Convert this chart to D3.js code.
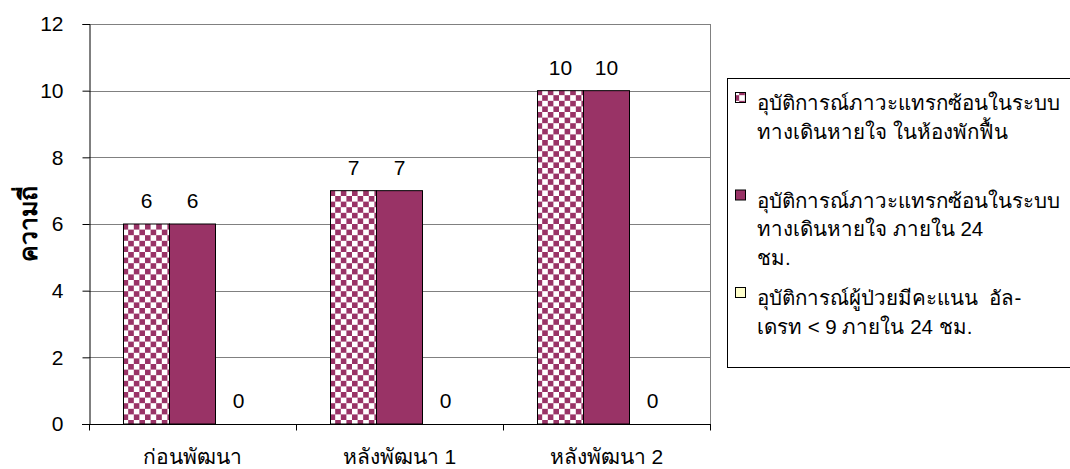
<!DOCTYPE html>
<html>
<head>
<meta charset="utf-8">
<script src="https://cdn.jsdelivr.net/npm/d3@7"></script>
<style>
  html, body { margin: 0; padding: 0; background: #fff; }
  svg { display: block; font-family: "Liberation Sans", Arial, "Noto Sans", sans-serif; }
</style>
</head>
<body>
<svg id="chart" width="1070" height="469"></svg>
<script>
const categories = ["ก่อนพัฒนา", "หลังพัฒนา 1", "หลังพัฒนา 2"];
const seriesNames = [
  ["อุบัติการณ์ภาวะแทรกซ้อนในระบบ", "ทางเดินหายใจ ในห้องพักฟื้น"],
  ["อุบัติการณ์ภาวะแทรกซ้อนในระบบ", "ทางเดินหายใจ ภายใน 24", "ชม."],
  ["อุบัติการณ์ผู้ป่วยมีคะแนน  อัล-", "เดรท < 9 ภายใน 24 ชม."]
];
const recoveryRoom = [6, 7, 10];
const within24h = [6, 7, 10];
const aldrete = [0, 0, 0];
const yTicks = [0, 2, 4, 6, 8, 10, 12];
const yTitle = "ความถี่";

const seriesValues = [recoveryRoom, within24h, aldrete];
const seriesKeys = ["s0", "s1", "s2"];
const PURPLE = "#993366";
const NUM_FONT = 21;

const svg = d3.select("#chart");
const defs = svg.append("defs");
const pat = defs.append("pattern")
  .attr("id", "checker").attr("patternUnits", "userSpaceOnUse")
  .attr("width", 11.2).attr("height", 11.2);
pat.append("rect").attr("width", 11.2).attr("height", 11.2).attr("fill", "#fff");
pat.append("rect").attr("width", 5.6).attr("height", 5.6).attr("fill", PURPLE);
pat.append("rect").attr("x", 5.6).attr("y", 5.6).attr("width", 5.6).attr("height", 5.6).attr("fill", PURPLE);

const fills = ["url(#checker)", PURPLE, "#FFFFCC"];

const plot = { left: 89, right: 710, top: 24, bottom: 424 };

const y = d3.scaleLinear().domain([0, 12]).range([plot.bottom, plot.top]);
const x0 = d3.scaleBand().domain(categories).range([plot.left, plot.right]).padding(0);
const x1 = d3.scaleBand().domain(seriesKeys).range([0, x0.bandwidth()]).paddingInner(0).paddingOuter(0.75);

// gridlines
svg.append("g").selectAll("line").data(yTicks.filter(d => d > 0)).join("line")
  .attr("x1", plot.left).attr("x2", plot.right)
  .attr("y1", d => Math.round(y(d)) + 0.5).attr("y2", d => Math.round(y(d)) + 0.5)
  .attr("stroke", "#808080").attr("stroke-width", 1);
// right frame
svg.append("line").attr("x1", plot.right + 0.5).attr("x2", plot.right + 0.5)
  .attr("y1", plot.top).attr("y2", plot.bottom).attr("stroke", "#808080");

// bars
const groups = svg.append("g").selectAll("g").data(categories).join("g")
  .attr("transform", d => `translate(${x0(d)},0)`);
groups.selectAll("rect").data((c, ci) => seriesKeys.map((k, si) => ({ k, si, v: seriesValues[si][ci] })))
  .join("rect")
  .attr("x", d => x1(d.k)).attr("width", x1.bandwidth())
  .attr("y", d => y(d.v)).attr("height", d => y(0) - y(d.v))
  .attr("fill", d => fills[d.si])
  .attr("stroke", "#000").attr("stroke-width", 1)
  .style("display", d => d.v > 0 ? null : "none");
groups.selectAll("text").data((c, ci) => seriesKeys.map((k, si) => ({ k, si, v: seriesValues[si][ci] })))
  .join("text")
  .attr("x", d => x1(d.k) + x1.bandwidth() / 2)
  .attr("y", d => y(d.v) - 16)
  .attr("text-anchor", "middle").attr("font-size", NUM_FONT).attr("fill", "#000")
  .text(d => d.v);

// y axis
const yAxis = svg.append("g").attr("transform", `translate(${plot.left + 0.5},0)`)
  .call(d3.axisLeft(y).tickValues(yTicks).tickSize(7).tickPadding(19).tickFormat(d3.format("d")));
yAxis.attr("font-family", null).attr("font-size", null);
yAxis.select(".domain").attr("stroke", "#000");
yAxis.selectAll(".tick line").attr("stroke", "#000");
yAxis.selectAll(".tick text").attr("font-size", NUM_FONT).attr("fill", "#000");

// x axis (ticks at category boundaries)
const xAxisG = svg.append("g").attr("transform", `translate(0,${plot.bottom + 0.5})`);
xAxisG.append("line").attr("x1", plot.left - 7).attr("x2", plot.right + 1)
  .attr("stroke", "#000");
const boundaries = categories.map(c => x0(c)).concat([x0(categories[categories.length - 1]) + x0.bandwidth()]);
xAxisG.selectAll("line.tk").data(boundaries).join("line").attr("class", "tk")
  .attr("x1", d => Math.round(d) + 0.5).attr("x2", d => Math.round(d) + 0.5)
  .attr("y1", 0).attr("y2", 6).attr("stroke", "#000");
xAxisG.selectAll("text").data(categories).join("text")
  .attr("x", d => x0(d) + x0.bandwidth() / 2).attr("y", 39)
  .attr("text-anchor", "middle").attr("font-size", 21).attr("fill", "#000")
  .text(d => d);

// y title
svg.append("text").attr("transform", `translate(37,${(plot.top + plot.bottom) / 2}) rotate(-90)`)
  .attr("text-anchor", "middle").attr("font-size", 25).attr("font-weight", "bold")
  .text(yTitle);

// legend
const lg = svg.append("g");
lg.append("rect").attr("x", 727.5).attr("y", 78.5).attr("width", 360).attr("height", 289)
  .attr("fill", "#fff").attr("stroke", "#000");
const entryY = [98, 195.5, 293];
seriesNames.forEach((lines, i) => {
  lg.append("rect").attr("x", 735.5).attr("y", entryY[i] - 5.5).attr("width", 10).attr("height", 10)
    .attr("fill", fills[i]).attr("stroke", "#000");
  const t = lg.append("text").attr("x", 757).attr("y", entryY[i] + 12).attr("font-size", 20.5)
    .attr("fill", "#000").style("white-space", "pre");
  lines.forEach((ln, j) => {
    t.append("tspan").attr("x", 757).attr("dy", j === 0 ? 0 : 28.5).text(ln);
  });
});
</script>
</body>
</html>
